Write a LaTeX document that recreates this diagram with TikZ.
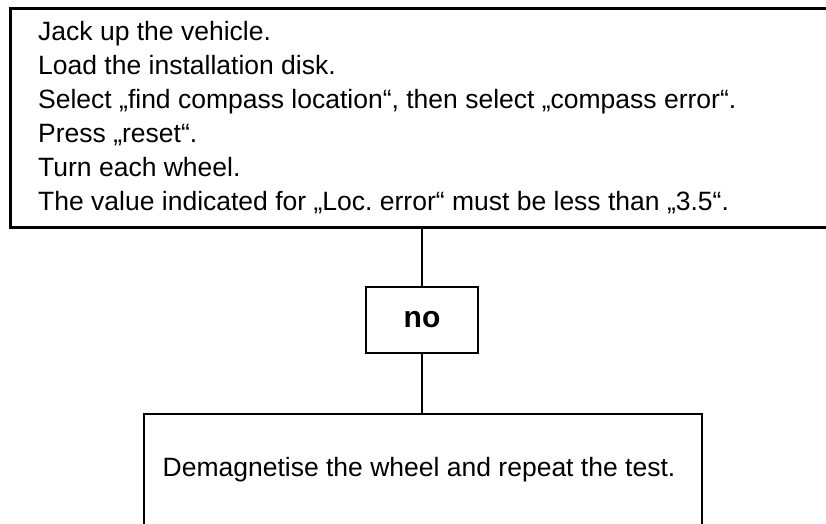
\documentclass[tikz,border=0pt]{standalone}
\usepackage{fontspec}
\setmainfont{Liberation Sans}
\frenchspacing
\begin{document}
\begin{tikzpicture}[x=1pt, y=-1pt,
  box/.style={draw, line width=2pt, inner sep=0pt},
  steptext/.style={anchor=base west, inner sep=0pt, font=\fontsize{26.5}{31}\selectfont},
  link/.style={line width=2pt}]
\useasboundingbox (0,0) rectangle (826,523);
\clip (0,0) rectangle (826,523);

% instruction box, running off the right edge
\node[box, line width=2.6pt, anchor=north west, minimum width=840pt, minimum height=219pt] (steps) at (9,7) {};
\node[steptext] (s1) at (38,40)  {Jack up the vehicle.};
\node[steptext] (s2) at (38,74)  {Load the installation disk.};
\node[steptext] (s3) at (38,108) {Select „find compass location“, then select „compass error“.};
\node[steptext] (s4) at (38,142) {Press „reset“.};
\node[steptext] (s5) at (38,176) {Turn each wheel.};
\node[steptext] (s6) at (38,210) {The value indicated for „Loc. error“ must be less than „3.5“.};

% decision outcome
\node[box, minimum width=112pt, minimum height=66pt, font=\bfseries\fontsize{30}{36}\selectfont] (no) at (422,320) {no};

% remedy box, running off the bottom edge
\node[box, anchor=north west, minimum width=558pt, minimum height=140pt] (fix) at (143,413) {};
\node[inner sep=0pt, font=\fontsize{26.5}{31}\selectfont] (fixtext) at (419,470) {Demagnetise the wheel and repeat the test.};

\draw[link] (no.north |- steps.south) -- (no.north);
\draw[link] (no.south) -- (no.south |- fix.north);
\end{tikzpicture}
\end{document}
